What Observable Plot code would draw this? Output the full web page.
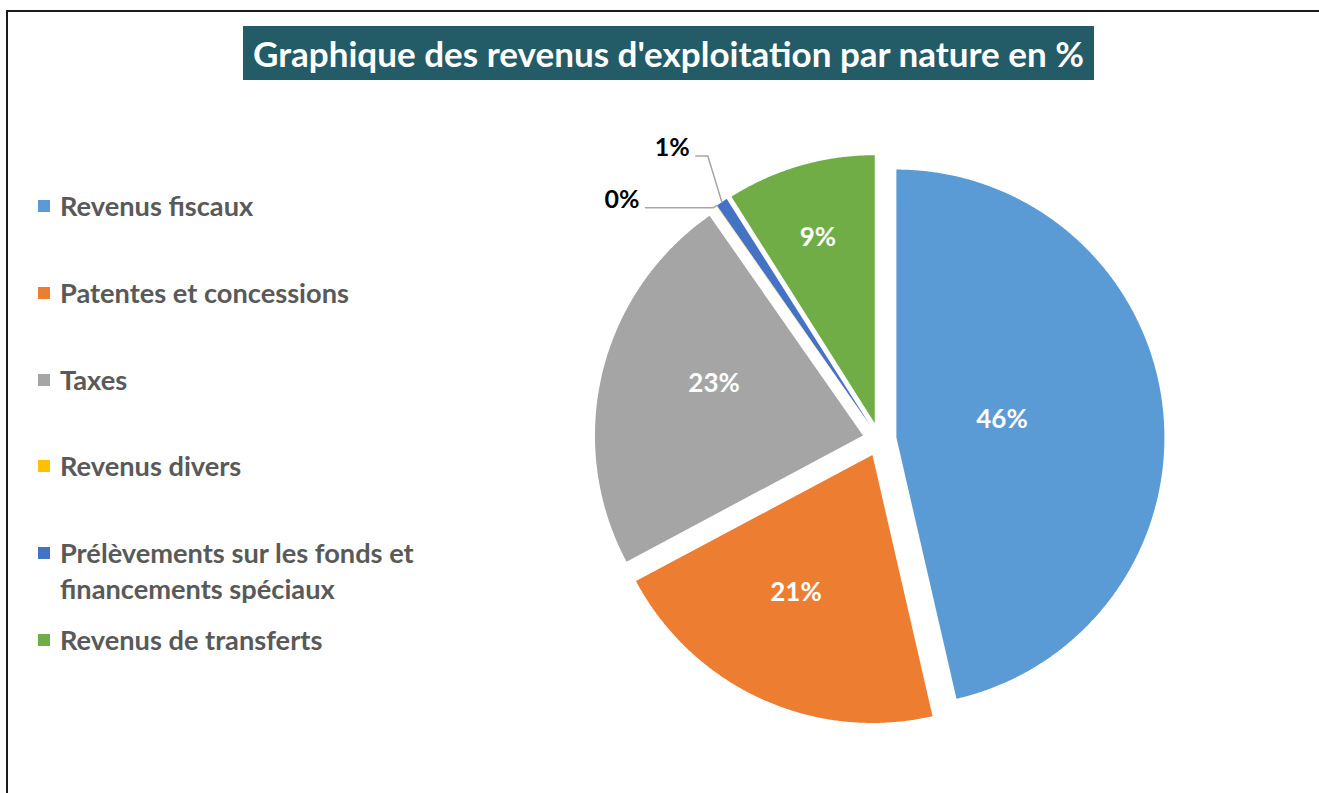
<!DOCTYPE html>
<html><head><meta charset="utf-8">
<script src="https://cdn.jsdelivr.net/npm/d3@7"></script>
<script src="https://cdn.jsdelivr.net/npm/@observablehq/plot@0.6"></script>
<style>
html,body{margin:0;background:#fff;overflow:hidden;}
#wrap{position:relative;width:1319px;height:793px;overflow:hidden;font-family:Lato,"Open Sans",sans-serif;}
#chart{position:absolute;left:0;top:0;}
#frameL{position:absolute;left:6px;top:10px;width:2px;height:783px;background:#1a1a1a;}
#frameT{position:absolute;left:6px;top:10px;width:1313px;height:2px;background:#1a1a1a;}
#title{position:absolute;left:243px;top:26px;width:851px;height:54px;background:#235B67;color:#fff;font-weight:700;display:flex;align-items:center;justify-content:center;white-space:nowrap;}
.sq{position:absolute;width:12px;height:12px;}
.lt{position:absolute;left:60px;width:372px;color:#595959;font-weight:700;line-height:36px;}
</style></head>
<body><div id="wrap"><div id="chart"></div><div id="frameL"></div><div id="frameT"></div>
<div id="title">Graphique des revenus d'exploitation par nature en %</div>
<div id="legend"></div></div>
<script>
// ---- data ----
const categories = ["Revenus fiscaux","Patentes et concessions","Taxes","Revenus divers","Prélèvements sur les fonds et financements spéciaux","Revenus de transferts"];
const shares = [46.4, 20.8, 23.1, 0.02, 0.7, 8.98];
const colors = ["#5B9BD5","#ED7D31","#A5A5A5","#FFC000","#4472C4","#70AD47"];
const pctLabels = shares.map(v => Math.round(v) + "%");

// ---- layout ----
const W = 1319, H = 793;
const cx = 879, cy = 439, R = 268;     // pie centre and radius (px)
const explode = 17 / R;
// inside label placement: [angle in degrees clockwise from top, distance in px from centre]
const insidePos = [[80.3, 124.3], [208.8, 173.4], [288.9, 174.9], null, null, [343.1, 212.1]];
const legendY = [206, 293, 380, 466, 553, 640];

const total = d3.sum(shares);
let acc = 0;
const slices = shares.map((v, i) => {
  const a0 = acc / total * 2 * Math.PI; acc += v;
  const a1 = acc / total * 2 * Math.PI;
  const mid = (a0 + a1) / 2;
  return {i, cat: categories[i], a0, a1, mid, ox: explode * Math.sin(mid), oy: explode * Math.cos(mid)};
});

const pts = [];
for (const s of slices) {
  pts.push({cat: s.cat, x: s.ox, y: s.oy});
  const n = Math.max(2, Math.ceil((s.a1 - s.a0) / 0.005));
  for (let k = 0; k <= n; k++) {
    const a = s.a0 + (s.a1 - s.a0) * k / n;
    pts.push({cat: s.cat, x: s.ox + Math.sin(a), y: s.oy + Math.cos(a)});
  }
}

const inside = slices.filter(s => insidePos[s.i]).map(s => {
  const [deg, dist] = insidePos[s.i];
  const a = deg * Math.PI / 180;
  return {x: dist / R * Math.sin(a), y: dist / R * Math.cos(a) - 1 / R, t: pctLabels[s.i]};
});

// leader lines for small slices (offsets in px from the slice's outer mid point)
const leaderLayout = [
  {i: 4, elbow: [-14, -46], end: [-26, -46]},
  {i: 3, elbow: [-3, 2], end: [-71, 2]}
];
const leaders = [], outside = [];
for (const L of leaderLayout) {
  const s = slices[L.i];
  const px = s.ox + Math.sin(s.mid), py = s.oy + Math.cos(s.mid);
  const id = "L" + L.i;
  leaders.push({id, x: px, y: py});
  leaders.push({id, x: px + L.elbow[0] / R, y: py - L.elbow[1] / R});
  const ex = px + L.end[0] / R, ey = py - L.end[1] / R;
  leaders.push({id, x: ex, y: ey});
  outside.push({x: ex - 6 / R, y: ey + 8 / R, t: pctLabels[L.i]});
}

const font = "Lato, 'Open Sans', sans-serif";
const plot = Plot.plot({
  width: W, height: H, margin: 0,
  x: {domain: [-cx / R, (W - cx) / R], range: [0, W], axis: null},
  y: {domain: [-(H - cy) / R, cy / R], range: [H, 0], axis: null},
  color: {domain: categories, range: colors},
  style: {fontFamily: font, background: "transparent"},
  marks: [
    Plot.line(pts, {x: "x", y: "y", z: "cat", fill: "cat", stroke: "none", curve: "linear-closed"}),
    Plot.line(leaders, {x: "x", y: "y", z: "id", stroke: "#A6A6A6", strokeWidth: 1.5}),
    Plot.text(inside, {x: "x", y: "y", text: "t", fill: "white", fontSize: 26, fontWeight: "bold"}),
    Plot.text(outside, {x: "x", y: "y", text: "t", fill: "black", fontSize: 25, fontWeight: "bold", textAnchor: "end"})
  ]
});
document.getElementById("chart").appendChild(plot);

// fit font sizes
const ctx = document.createElement("canvas").getContext("2d");
function fitSize(text, target) { ctx.font = "700 100px " + font; return 100 * target / ctx.measureText(text).width; }
const title = document.getElementById("title");
title.style.fontSize = fitSize(title.textContent, 832) + "px";
const lgSize = fitSize("Patentes et concessions", 289);

const legend = document.getElementById("legend");
categories.forEach((c, i) => {
  const sq = document.createElement("div");
  sq.className = "sq"; sq.style.left = "38px"; sq.style.top = (legendY[i] - 6) + "px"; sq.style.background = colors[i];
  const t = document.createElement("div");
  t.className = "lt"; t.style.top = (legendY[i] - 18) + "px"; t.style.fontSize = lgSize + "px"; t.textContent = c;
  legend.appendChild(sq); legend.appendChild(t);
});
</script></body></html>
